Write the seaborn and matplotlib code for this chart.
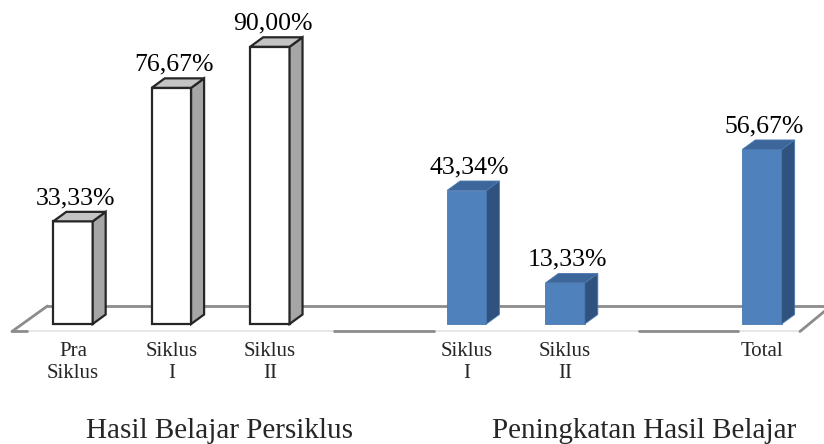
import numpy as np
import pandas as pd
import seaborn as sns
import matplotlib.pyplot as plt
from matplotlib.patches import Polygon

# category slots on the x axis (two empty slots separate the groups)
slots = ["pra", "s1", "s2", "gap1", "p1", "p2", "gap2", "total"]
tick_labels = ["Pra\nSiklus", "Siklus\nI", "Siklus\nII", "", "Siklus\nI", "Siklus\nII", "", "Total"]
bar_keys = ["pra", "s1", "s2", "p1", "p2", "total"]
values = [33.33, 76.67, 90.00, 43.34, 13.33, 56.67]
groups = ["Hasil Belajar Persiklus"] * 3 + ["Peningkatan Hasil Belajar"] * 3
group_titles = ["Hasil Belajar Persiklus", "Peningkatan Hasil Belajar"]

df = pd.DataFrame({"key": bar_keys, "value": values, "group": groups})

# face colours: front, side, top, edge, edge width
styles = {
    "Hasil Belajar Persiklus": ("white", "#a6a6a6", "#c4c4c4", "#262626", 1.6),
    "Peningkatan Hasil Belajar": ("#4f81bd", "#30527e", "#3d679b", "#4a78b0", 0.6),
}

sns.set_style("white")
plt.rcParams["font.family"] = ["Liberation Serif", "DejaVu Serif"]

fig = plt.figure(figsize=(8.24, 4.44), dpi=100)
ax = fig.add_axes([0, 0.2534, 1, 0.7466])

sns.barplot(data=df, x="key", y="value", order=slots, hue="group",
            palette={g: styles[g][0] for g in group_titles}, dodge=False,
            width=0.40, errorbar=None, legend=False, ax=ax, zorder=3)

xmin, xmax = -0.7416, 7.630
ymin, ymax = -2.435, 105.19
ax.set_xlim(xmin, xmax)
ax.set_ylim(ymin, ymax)

# 3d depth offsets in data units
dx, dy = 0.132, 3.08

# floor
floor_grey = "#8c8c8c"
y_back, y_front = 5.84, ymin
ax.plot([-0.26, xmax + 0.2], [y_back, y_back], color=floor_grey, lw=2, zorder=1, clip_on=False)
ax.plot([-0.62, 7.386], [y_front, y_front], color="#e3e3e3", lw=1.2, zorder=1, clip_on=False)
ax.plot([-0.62, -0.26], [y_front, y_back], color=floor_grey, lw=2, zorder=1, clip_on=False)
ax.plot([7.386, 7.70], [y_front, y_back], color=floor_grey, lw=2, zorder=1, clip_on=False)
ax.plot([-0.62, -0.47], [y_front, y_front], color=floor_grey, lw=2, zorder=1, clip_on=False)
gap_spans = {"gap1": (-0.35, 0.67), "gap2": (-0.25, 0.76)}
for i, s in enumerate(slots):
    if s in gap_spans:
        a, b = gap_spans[s]
        ax.plot([i + a, i + b], [y_front, y_front], color=floor_grey, lw=2,
                zorder=1, clip_on=False)

lookup = dict(zip(bar_keys, zip(values, groups)))
for p in list(ax.patches):
    h = p.get_height()
    if not np.isfinite(h) or h <= 0:
        continue
    cx = p.get_x() + p.get_width() / 2
    key = slots[int(round(cx))]
    val, grp = lookup[key]
    front, side, top, edge, lw = styles[grp]
    x0, x1 = p.get_x(), p.get_x() + p.get_width()
    p.set_facecolor(front)
    p.set_edgecolor(edge)
    p.set_linewidth(lw)
    ax.add_patch(Polygon([(x1, 0), (x1 + dx, dy), (x1 + dx, h + dy), (x1, h)],
                         closed=True, facecolor=side, edgecolor=edge, lw=lw, zorder=3))
    ax.add_patch(Polygon([(x0, h), (x0 + dx, h + dy), (x1 + dx, h + dy), (x1, h)],
                         closed=True, facecolor=top, edgecolor=edge, lw=lw, zorder=3))
    label = f"{val:.2f}%".replace(".", ",")
    ax.text(cx + dx * 0.2, h + dy + 2.45, label, ha="center", va="baseline",
            fontsize=18.5, color="black")

ax.set_xticks(range(len(slots)))
ax.set_xticklabels(tick_labels, fontsize=15)
ax.tick_params(axis="x", length=0, pad=7.5)
ax.set_yticks([])
ax.set_xlabel("")
ax.set_ylabel("")
for sp in ax.spines.values():
    sp.set_visible(False)
ax.patch.set_alpha(0)

fig.text(219.5 / 824, 1 - 438 / 444, group_titles[0], ha="center", va="baseline", fontsize=21)
fig.text(644.5 / 824, 1 - 438 / 444, group_titles[1], ha="center", va="baseline", fontsize=21)

fig.savefig("out.png", dpi=100)
